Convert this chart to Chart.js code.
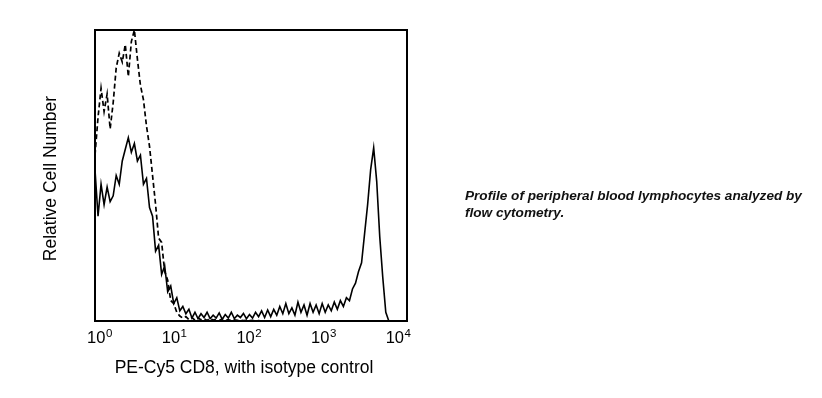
<!DOCTYPE html>
<html>
<head>
<meta charset="utf-8">
<script src="https://cdn.jsdelivr.net/npm/chart.js@4/dist/chart.umd.min.js"></script>
<style>
  html, body { margin: 0; padding: 0; background: #fff; }
  #wrap { width: 822px; height: 398px; position: relative; }
</style>
</head>
<body>
<div id="wrap"><canvas id="hist"></canvas></div>
<script>
// histogram counts per channel (log scale, 10^0 .. 10^4), relative units 0..100
var cd8 = [
    52, 36, 47, 40, 46, 41, 43, 50, 47, 55,
    59, 63, 58, 61, 55, 57, 47, 49, 39, 36,
    24, 26, 16, 19, 10, 12, 6, 8, 3.5, 5,
    2.5, 4, 1, 3, 0.8, 2.5, 1.2, 3, 0.8, 2,
    1, 2.8, 0.6, 2.2, 1, 3, 0.8, 2, 1.2, 2.6,
    0.8, 2.2, 1, 3, 1.5, 3.5, 1.2, 3.8, 1.5, 4,
    2, 5, 2.5, 6, 2.5, 4.5, 2, 6.5, 3, 5.5,
    2, 6, 3, 5.5, 2.5, 6, 3, 5.5, 3.5, 6.5,
    4, 7, 5, 8, 7, 11, 13, 17, 20, 30,
    40, 52, 59.5, 48, 29, 15, 3, 0, 0, 0,
    0, 0, 0, 0
];
var isotype = [
    57, 70, 80, 72, 78, 66, 75, 87, 92, 89,
    95, 84, 96, 100, 90, 81, 76, 67, 60, 50,
    40, 28.5, 27, 17, 14, 7, 6, 3, 1.7, 1,
    1.5, 0.5, 1.2, 0.3, 1, 0.4, 0.8, 0.2, 0.9, 0.3,
    0.6, 0.2, 0.7, 0.2, 0.5, 0.1, 0.4, 0.2, 0.3, 0.1,
    0.2, 0.1, 0.2, 0, 0.1, 0, 0, 0, 0, 0,
    0, 0, 0, 0, 0, 0, 0, 0, 0, 0,
    0, 0, 0, 0, 0, 0, 0, 0, 0, 0,
    0, 0, 0, 0, 0, 0, 0, 0, 0, 0,
    0, 0, 0, 0, 0, 0, 0, 0, 0, 0,
    0, 0, 0, 0
];
var channels = cd8.map(function(_, i) { return i; });

var decades = [0, 1, 2, 3, 4];
var decadeExps = ["0", "1", "2", "3", "4"];

var xTitle = "PE-Cy5 CD8, with isotype control";
var yTitle = "Relative Cell Number";
var caption = [
    "Profile of peripheral blood lymphocytes analyzed by",
    "flow cytometry."
];

var FONT = "'Liberation Sans', Arial, sans-serif";

var frameAndText = {
    id: "frameAndText",
    afterDraw: function(chart) {
        var ctx = chart.ctx;
        var a = chart.chartArea;
        var xt = chart.scales.xt;
        ctx.save();

        // plot frame
        ctx.strokeStyle = "#000";
        ctx.lineWidth = 2;
        ctx.strokeRect(a.left, a.top, a.right - a.left, a.bottom - a.top);

        // decade tick labels 10^n
        ctx.fillStyle = "#000";
        ctx.textBaseline = "alphabetic";
        ctx.textAlign = "left";
        decades.forEach(function(d, k) {
            var px = xt.getPixelForValue(d);
            ctx.font = "16.5px " + FONT;
            var w1 = ctx.measureText("10").width;
            ctx.font = "11.5px " + FONT;
            var w2 = ctx.measureText(decadeExps[k]).width;
            var x0 = px - (w1 + w2) / 2;
            ctx.font = "16.5px " + FONT;
            ctx.fillText("10", x0, a.bottom + 22);
            ctx.font = "11.5px " + FONT;
            ctx.fillText(decadeExps[k], x0 + w1 + 0.5, a.bottom + 16);
        });

        // axis titles
        ctx.font = "17.5px " + FONT;
        ctx.textAlign = "center";
        ctx.fillText(xTitle, (a.left + a.right) / 2 - 7, a.bottom + 52);

        ctx.save();
        ctx.translate(56, (a.top + a.bottom) / 2 + 3);
        ctx.rotate(-Math.PI / 2);
        ctx.fillText(yTitle, 0, 0);
        ctx.restore();

        // caption
        ctx.font = "italic bold 13.6px " + FONT;
        ctx.textAlign = "left";
        ctx.fillStyle = "#111";
        caption.forEach(function(line, i) {
            ctx.fillText(line, 465, 200 + i * 17);
        });

        ctx.restore();
    }
};

window.onload = function() {
    var ctx = document.getElementById("hist").getContext("2d");
    var chart = new Chart(ctx, {
        type: "line",
        data: {
            labels: channels,
            datasets: [{
                label: "Isotype control",
                data: isotype,
                borderColor: "#000",
                borderWidth: 1.7,
                borderDash: [5, 3],
                pointRadius: 0,
                tension: 0,
                fill: false
            }, {
                label: "PE-Cy5 CD8",
                data: cd8,
                borderColor: "#000",
                borderWidth: 1.6,
                pointRadius: 0,
                tension: 0,
                fill: false
            }]
        },
        plugins: [frameAndText],
        options: {
            responsive: true,
            maintainAspectRatio: false,
            animation: false,
            layout: { padding: { left: 95, right: 415, top: 30, bottom: 77 } },
            plugins: {
                legend: { display: false },
                tooltip: { enabled: false },
                title: { display: false }
            },
            scales: {
                x: { type: "category", display: false, offset: false },
                xt: { type: "linear", axis: "x", min: -0.06, max: 4.12, display: false },
                y: { type: "linear", display: false, min: 0, max: 100 }
            }
        }
    });
};
</script>
</body>
</html>
